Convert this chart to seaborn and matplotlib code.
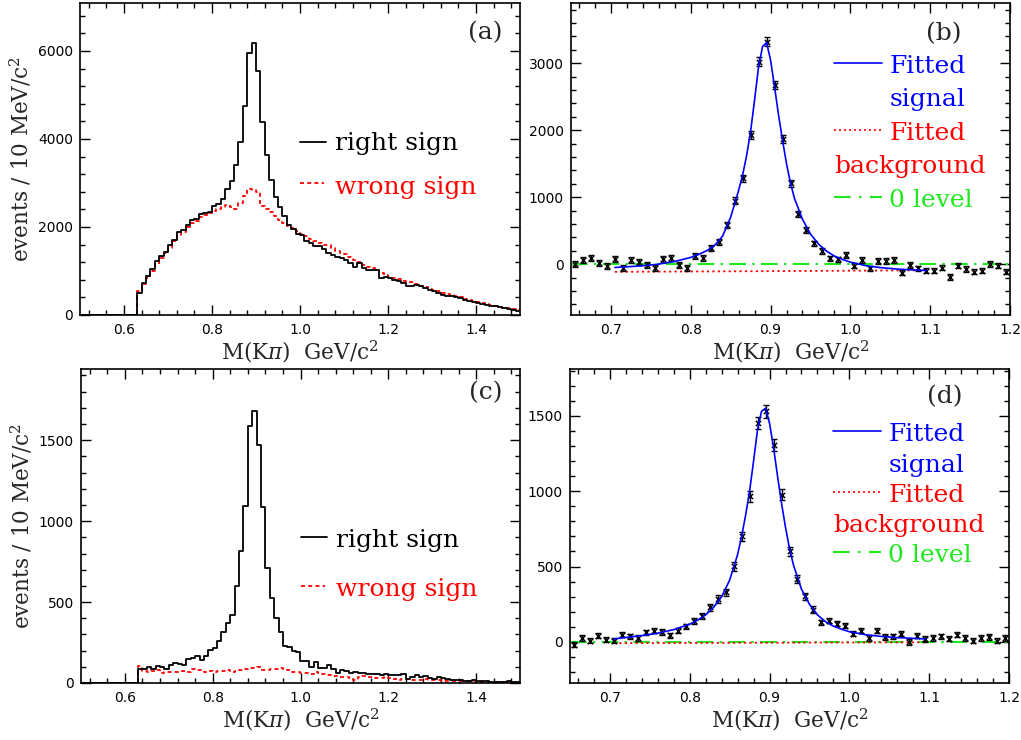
import numpy as np
import matplotlib
matplotlib.use("Agg")
import matplotlib.pyplot as plt
from matplotlib.ticker import MultipleLocator, AutoMinorLocator
import seaborn as sns

sns.set_style("ticks")
plt.rcParams["font.family"] = ["DejaVu Sans"]
plt.rcParams["mathtext.fontset"] = "dejavuserif"

# ---------------- data ----------------
bin_edges = [round(0.5 + 0.01 * i, 3) for i in range(101)]
bin_centers = [round(e + 0.005, 4) for e in bin_edges[:-1]]
zeros_low = [0] * 13  # 0.50 - 0.63 (below threshold)

rs_a = zeros_low + [
    490, 727, 879, 1045, 1220, 1348, 1432, 1583, 1712, 1886,
    1939, 2038, 2152, 2182, 2295, 2318, 2333, 2470, 2523, 2644,
    2864, 3038, 3417, 3932, 4742, 5955, 6190, 5545, 4386, 3629,
    3076, 2682, 2455, 2242, 2038, 1955, 1841, 1818, 1674, 1636,
    1561, 1561, 1500, 1409, 1371, 1318, 1295, 1242, 1182, 1091,
    1182, 1068, 1015, 1015, 1015, 841, 864, 841, 803, 765,
    727, 652, 667, 689, 652, 606, 576, 553, 500, 462,
    439, 439, 409, 386, 348, 311, 288, 273, 258, 235,
    212, 197, 182, 159, 136, 121, 98]
ws_a = zeros_low + [
    540, 700, 850, 1000, 1150, 1290, 1400, 1530, 1680, 1820,
    1880, 1990, 2080, 2130, 2220, 2280, 2320, 2360, 2420, 2450,
    2500, 2450, 2420, 2550, 2700, 2860, 2840, 2800, 2480, 2420,
    2350, 2250, 2150, 2080, 2030, 1970, 1900, 1850, 1800, 1730,
    1690, 1640, 1600, 1600, 1520, 1460, 1420, 1380, 1320, 1260,
    1200, 1140, 1100, 1060, 1020, 960, 910, 870, 840, 810,
    780, 760, 740, 700, 670, 640, 600, 570, 540, 510,
    480, 460, 430, 400, 370, 340, 310, 290, 270, 250,
    230, 210, 190, 170, 150, 130, 110]
rs_c = zeros_low + [
    85, 89, 99, 89, 105, 99, 89, 109, 126, 120,
    109, 150, 155, 167, 140, 167, 202, 218, 257, 315,
    371, 422, 600, 816, 1092, 1588, 1681, 1471, 1088, 709,
    525, 404, 315, 229, 222, 198, 192, 136, 136, 99,
    130, 95, 95, 109, 89, 64, 82, 72, 64, 68,
    64, 62, 54, 58, 54, 47, 54, 47, 47, 47,
    58, 27, 37, 47, 37, 41, 33, 27, 37, 31,
    23, 21, 16, 21, 12, 12, 16, 12, 12, 10,
    6, 8, 6, 8, 10, 6, 5]
ws_c = zeros_low + [
    105, 75, 70, 75, 80, 60, 65, 70, 65, 70,
    75, 70, 85, 80, 80, 70, 75, 70, 75, 75,
    80, 70, 75, 80, 85, 90, 95, 100, 80, 80,
    85, 85, 90, 85, 80, 70, 65, 60, 60, 55,
    65, 60, 55, 50, 45, 45, 35, 40, 30, 20,
    35, 45, 40, 35, 30, 30, 35, 30, 25, 20,
    25, 25, 20, 20, 18, 22, 20, 18, 20, 15,
    15, 12, 12, 10, 10, 12, 10, 8, 8, 6,
    6, 5, 5, 4, 4, 3, 3]

pt_x = [round(0.655 + 0.01 * i, 3) for i in range(55)]
pts_b = [0, 60, 85, 20, -25, 70, -65, 60, 25, -15,
         -55, 70, 85, -15, -55, 120, 85, 234, 334, 583,
         947, 1281, 1928, 3025, 3324, 2676, 1864, 1206, 747, 508,
         309, 199, 85, 70, 135, -25, 60, -65, 45, 45,
         60, -130, -15, -65, -100, -100, -55, -190, -25, -75,
         -115, -100, 0, -25, -115]
err_b = [45, 45, 45, 45, 45, 45, 45, 45, 45, 45,
         45, 45, 45, 45, 45, 45, 45, 45, 47, 50,
         52, 55, 58, 62, 62, 60, 57, 53, 50, 47,
         42, 42, 42, 42, 42, 40, 40, 40, 40, 40,
         40, 40, 40, 40, 40, 40, 40, 40, 40, 40,
         40, 40, 40, 40, 40]
pts_d = [-18, 27, 9, 42, 15, 9, 49, 38, 27, 64,
         75, 66, 44, 75, 104, 141, 170, 230, 285, 329,
         501, 700, 965, 1451, 1529, 1308, 976, 601, 420, 303,
         214, 130, 141, 121, 108, 55, 75, 27, 75, 33,
         38, 55, 0, 42, 20, 27, 38, 22, 49, 27,
         9, 27, 33, 9, 27]
err_d = [18, 18, 18, 18, 18, 18, 18, 18, 18, 18,
         18, 18, 18, 18, 18, 20, 20, 22, 24, 25,
         28, 32, 36, 40, 42, 40, 36, 30, 27, 25,
         22, 18, 18, 18, 18, 18, 18, 18, 18, 18,
         18, 18, 18, 18, 18, 18, 18, 18, 18, 18,
         18, 18, 18, 18, 18]

fit_x = [0.705, 0.72, 0.74, 0.76, 0.78, 0.80, 0.81, 0.82, 0.83, 0.84,
         0.85, 0.86, 0.865, 0.87, 0.875, 0.88, 0.885, 0.89, 0.895, 0.90,
         0.905, 0.91, 0.915, 0.92, 0.925, 0.93, 0.94, 0.95, 0.96, 0.97,
         0.98, 0.99, 1.00, 1.02, 1.04, 1.06, 1.08, 1.095]
fit_b = [-50, -40, -25, 0, 40, 100, 145, 200, 280, 420,
         700, 1100, 1330, 1620, 1980, 2450, 2950, 3250, 3310, 3050,
         2650, 2230, 1850, 1500, 1210, 980, 670, 450, 300, 195,
         120, 70, 30, -25, -55, -75, -88, -95]
fit_d = [20, 30, 42, 58, 82, 118, 145, 180, 230, 300,
         410, 580, 700, 840, 1000, 1200, 1410, 1530, 1550, 1450,
         1290, 1100, 920, 760, 620, 510, 350, 250, 180, 135,
         105, 85, 68, 48, 37, 29, 24, 20]
bkg_x = [0.705, 0.9, 1.095]
bkg_b = [-115, -105, -92]
bkg_d = [-8, -5, -2]
zero_x = [0.65, 1.2]
zero_y = [0, 0]

# ---------------- styles ----------------
SERIF = "DejaVu Serif"
LEG_FS = 18
LAB_FS = 15.5
TICK_FS = 10
GREEN = "#1ee81e"
RED_DASH = (0, (2.2, 1.8))
RED_DOT = (0, (1.2, 1.8))
GREEN_DD = (0, (8, 3, 1.2, 3))

fig = plt.figure(figsize=(10.21, 7.40), dpi=100)
W, H = 1021, 740


def add_ax(l, t, r, b):
    return fig.add_axes([l / W, 1 - b / H, (r - l) / W, (b - t) / H])


ax_a = add_ax(80, 3, 520, 315)
ax_b = add_ax(571, 3, 1010, 315)
ax_c = add_ax(81, 369, 520, 683)
ax_d = add_ax(570, 369, 1009, 683)


def style_axes(ax, xmaj, ymaj):
    ax.xaxis.set_major_locator(MultipleLocator(xmaj))
    ax.yaxis.set_major_locator(MultipleLocator(ymaj))
    ax.xaxis.set_minor_locator(AutoMinorLocator(5))
    ax.yaxis.set_minor_locator(AutoMinorLocator(5))
    ax.tick_params(which="both", direction="in", top=True, right=True,
                   width=1.0, colors="black")
    ax.tick_params(which="major", length=7)
    ax.tick_params(which="minor", length=3.5)
    ax.tick_params(axis="y", pad=5, labelsize=TICK_FS)
    ax.tick_params(axis="x", pad=6, labelsize=TICK_FS)
    for s in ax.spines.values():
        s.set_linewidth(1.2)
        s.set_color("black")
    ax.set_xlabel("M(K$\\pi$)  GeV/c$^{2}$", fontsize=LAB_FS,
                  fontfamily=SERIF, labelpad=1)


def hist_panel(ax, rs, ws, ymax, ymaj, label, tag, leg):
    sns.histplot(x=bin_centers, weights=ws, bins=bin_edges, element="step",
                 fill=False, color="red", linewidth=1.3, linestyle=RED_DASH,
                 ax=ax)
    sns.histplot(x=bin_centers, weights=rs, bins=bin_edges, element="step",
                 fill=False, color="black", linewidth=1.3, ax=ax)
    ax.set_xlim(0.5, 1.5)
    ax.set_ylim(0, ymax)
    style_axes(ax, 0.2, ymaj)
    ax.xaxis.set_major_formatter(matplotlib.ticker.FuncFormatter(
        lambda v, p: "" if abs(v - 0.5) < 1e-6 or abs(v - 1.5) < 1e-6 else f"{v:.1f}"))
    ax.set_ylabel("events / 10 MeV/c$^{2}$", fontsize=LAB_FS,
                  fontfamily=SERIF, labelpad=3)
    tx, ty = tag
    l1y, t1y, l2y, t2y = leg
    ax.text(tx, ty, label, transform=ax.transAxes,
            ha="center", va="center", fontsize=LEG_FS, fontfamily=SERIF)
    ax.plot([0.50, 0.56], [l1y, l1y], color="black", lw=1.3,
            transform=ax.transAxes)
    ax.text(0.58, t1y, "right sign", transform=ax.transAxes, color="black",
            fontsize=LEG_FS, fontfamily=SERIF, va="baseline")
    ax.plot([0.50, 0.555], [l2y, l2y], color="red", lw=1.3, ls=RED_DASH,
            transform=ax.transAxes)
    ax.text(0.58, t2y, "wrong sign", transform=ax.transAxes, color="red",
            fontsize=LEG_FS, fontfamily=SERIF, va="baseline")


def fit_panel(ax, pts, err, fit, bkg, ylim, ymaj, label, tag, leg):
    sns.lineplot(x=zero_x, y=zero_y, color=GREEN, lw=1.5,
                 linestyle=GREEN_DD, ax=ax)
    sns.lineplot(x=bkg_x, y=bkg, color="red", lw=1.3, linestyle=RED_DOT,
                 ax=ax)
    ax.errorbar(pt_x, pts, yerr=err, fmt="none", ecolor="black",
                elinewidth=1.0, capsize=2.5, capthick=1.0, zorder=3)
    sns.scatterplot(x=pt_x, y=pts, marker="x", color="black", s=14,
                    linewidth=1.1, ax=ax, zorder=4)
    sns.lineplot(x=fit_x, y=fit, color="blue", lw=1.2, sort=False, ax=ax,
                 zorder=5)
    ax.set_xlim(0.65, 1.2)
    ax.set_ylim(*ylim)
    style_axes(ax, 0.1, ymaj)
    ax.xaxis.set_major_formatter(matplotlib.ticker.FuncFormatter(
        lambda v, p: f"{v:.1f}"))
    ax.set_ylabel("")
    tx, ty = tag
    ax.text(tx, ty, label, transform=ax.transAxes, ha="center", va="center",
            fontsize=LEG_FS, fontfamily=SERIF)
    l_sig, t_fs, t_sg, l_bk, t_fb, t_bg, l_0, t_0 = leg
    x0, x1, xt = 0.600, 0.708, 0.725
    ax.plot([x0, x1], [l_sig, l_sig], color="blue", lw=1.2,
            transform=ax.transAxes)
    ax.text(xt, t_fs, "Fitted", color="blue", transform=ax.transAxes,
            fontsize=LEG_FS, fontfamily=SERIF, va="baseline")
    ax.text(xt, t_sg, "signal", color="blue", transform=ax.transAxes,
            fontsize=LEG_FS, fontfamily=SERIF, va="baseline")
    ax.plot([x0, x1], [l_bk, l_bk], color="red", lw=1.2, ls=RED_DOT,
            transform=ax.transAxes)
    ax.text(xt, t_fb, "Fitted", color="red", transform=ax.transAxes,
            fontsize=LEG_FS, fontfamily=SERIF, va="baseline")
    ax.text(x0, t_bg, "background", color="red", transform=ax.transAxes,
            fontsize=LEG_FS, fontfamily=SERIF, va="baseline")
    ax.plot([x0, x1], [l_0, l_0], color=GREEN, lw=1.5, ls=(0, (8, 4, 1.2, 4)),
            transform=ax.transAxes)
    ax.text(xt, t_0, "0 level", color=GREEN, transform=ax.transAxes,
            fontsize=LEG_FS, fontfamily=SERIF, va="baseline")


hist_panel(ax_a, rs_a, ws_a, 7090, 2000, "(a)", (0.920, 0.904),
           (0.554, 0.529, 0.423, 0.388))
hist_panel(ax_c, rs_c, ws_c, 1940, 500, "(c)", (0.922, 0.924),
           (0.465, 0.433, 0.309, 0.277))

fit_panel(ax_b, pts_b, err_b, fit_b, bkg_b, (-760, 3900), 1000, "(b)",
          (0.850, 0.900),
          (0.808, 0.776, 0.670, 0.593, 0.561, 0.455, 0.378, 0.346))
fit_panel(ax_d, pts_d, err_d, fit_d, bkg_d, (-272, 1810), 500, "(d)",
          (0.854, 0.911),
          (0.803, 0.771, 0.672, 0.608, 0.576, 0.481, 0.417, 0.385))

fig.savefig("out.png", dpi=100)
